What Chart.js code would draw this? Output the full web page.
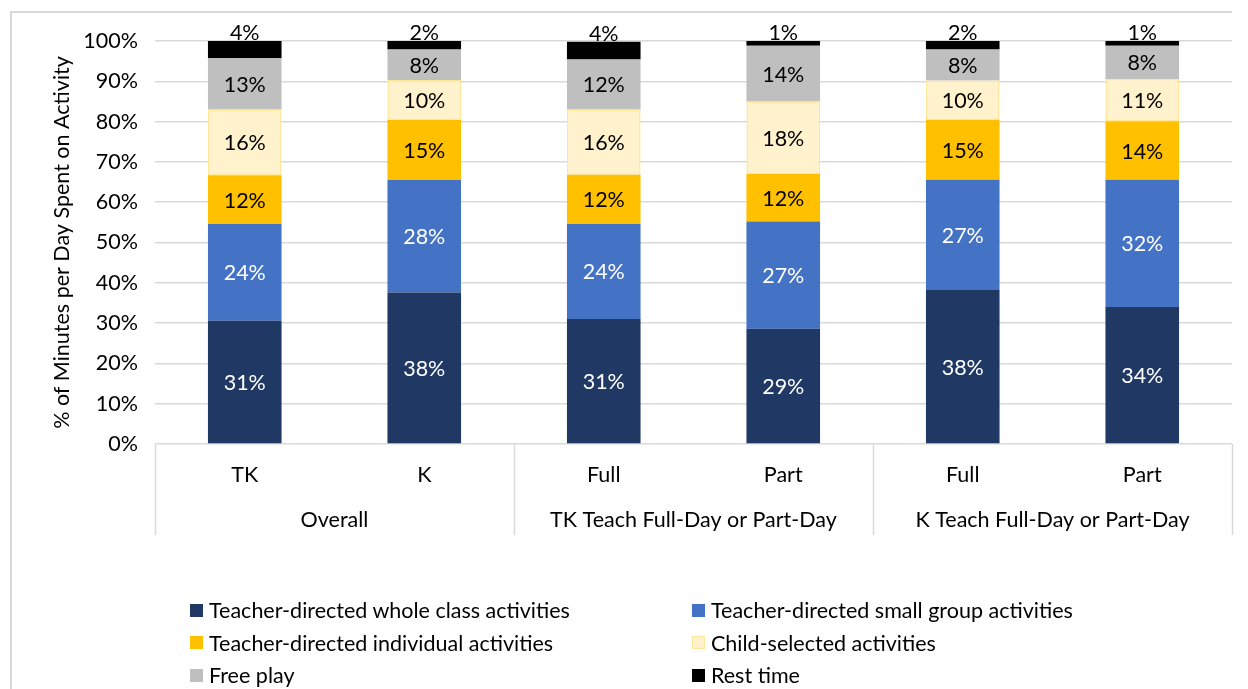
<!DOCTYPE html>
<html>
<head>
<meta charset="utf-8">
<script src="https://cdn.jsdelivr.net/npm/chart.js@4/dist/chart.umd.min.js"></script>
<style>
  html, body { margin: 0; padding: 0; background: #fff; }
  #wrap { position: relative; width: 1248px; height: 689px; overflow: hidden; }
  #moldura {
    position: absolute; left: 10px; top: 11px; width: 1220px; height: 700px;
    border-left: 2px solid #D9D9D9; border-top: 2px solid #D9D9D9;
  }
  #grafico { position: absolute; left: 0; top: 0; }
  #legend {
    position: absolute; left: 190px; top: 597px;
    display: grid; grid-template-columns: 502px 502px; row-gap: 6.5px;
    font-family: Lato, "Noto Sans", sans-serif; font-size: 21.5px; color: #000;
  }
  .item { display: flex; align-items: center; height: 26px; }
  .box { width: 13px; height: 13px; margin-right: 6px; box-sizing: border-box; }
</style>
</head>
<body>
<div id="wrap">
  <div id="moldura"></div>
  <canvas id="grafico" width="1248" height="689"></canvas>
  <div id="legend"></div>
</div>
<script>
// categorias e grupos
const categorias = ['TK', 'K', 'Full', 'Part', 'Full', 'Part'];
const grupos = ['Overall', 'TK Teach Full-Day or Part-Day', 'K Teach Full-Day or Part-Day'];
const yTicks = [0, 10, 20, 30, 40, 50, 60, 70, 80, 90, 100];

// séries (% of minutes)
const wholeClass  = [30.6, 37.6, 31.0, 28.6, 38.2, 34.0];
const smallGroup  = [24.0, 27.9, 23.6, 26.6, 27.4, 31.6];
const individual  = [12.1, 14.9, 12.2, 11.8, 14.8, 14.4];
const childSel    = [16.3,  9.9, 16.2, 18.0,  9.8, 10.6];
const freePlay    = [12.8,  7.6, 12.4, 13.8,  7.7,  8.2];
const restTime    = [ 4.2,  2.1,  4.4,  1.2,  2.1,  1.2];

const FONT = 'Lato, "Noto Sans", sans-serif';
const FS = 21.5;

const series = [
  { label: 'Teacher-directed whole class activities', data: wholeClass, cor: '#203864', borda: '#203864', txt: '#ffffff' },
  { label: 'Teacher-directed small group activities', data: smallGroup, cor: '#4472C4', borda: '#4472C4', txt: '#ffffff' },
  { label: 'Teacher-directed individual activities', data: individual, cor: '#FFC000', borda: '#FFC000', txt: '#000000' },
  { label: 'Child-selected activities', data: childSel, cor: '#FFF2CC', borda: '#FFE699', txt: '#000000' },
  { label: 'Free play', data: freePlay, cor: '#BFBFBF', borda: '#BFBFBF', txt: '#000000' },
  { label: 'Rest time', data: restTime, cor: '#000000', borda: '#000000', txt: '#000000' }
];

// rótulos de valor
const rotulos = {
  id: 'rotulos',
  afterDatasetsDraw(chart) {
    const c = chart.ctx;
    c.save();
    c.font = FS + 'px ' + FONT;
    c.textAlign = 'center';
    chart.data.datasets.forEach((ds, i) => {
      const meta = chart.getDatasetMeta(i);
      meta.data.forEach((bar, j) => {
        const txt = Math.round(ds.data[j]) + '%';
        c.fillStyle = series[i].txt;
        if (i === series.length - 1) {
          c.textBaseline = 'alphabetic';
          c.fillText(txt, bar.x, bar.y - 1);
        } else {
          c.textBaseline = 'middle';
          c.fillText(txt, bar.x, (bar.y + bar.base) / 2 + 1);
        }
      });
    });
    c.restore();
  }
};

// linhas separadoras dos grupos
const separadores = {
  id: 'separadores',
  afterDraw(chart) {
    const xs = chart.scales.x, x2 = chart.scales.x2;
    const c = chart.ctx;
    const pos = [xs.left, xs.right];
    for (let k = 2; k < categorias.length; k += 2) {
      pos.push((xs.getPixelForValue(k - 1) + xs.getPixelForValue(k)) / 2);
    }
    c.save();
    c.strokeStyle = '#D9D9D9';
    c.lineWidth = 1.5;
    pos.forEach(p => {
      c.beginPath();
      c.moveTo(Math.round(p) + 0.5, chart.chartArea.bottom);
      c.lineTo(Math.round(p) + 0.5, x2.bottom);
      c.stroke();
    });
    c.restore();
  }
};

const ctx = document.getElementById('grafico');

new Chart(ctx, {
  type: 'bar',
  data: {
    labels: categorias,
    datasets: series.map(s => ({
      label: s.label,
      data: s.data,
      backgroundColor: s.cor,
      borderColor: s.borda,
      borderWidth: s.cor === s.borda ? 0 : 1.5,
      borderSkipped: false,
      categoryPercentage: 1,
      barPercentage: 0.41
    }))
  },
  options: {
    responsive: false,
    animation: false,
    devicePixelRatio: 1,
    layout: { padding: { left: 49, right: 16, top: 41, bottom: 154 } },
    plugins: { legend: { display: false }, tooltip: { enabled: false } },
    scales: {
      x: {
        stacked: true,
        grid: { display: false, drawTicks: false },
        border: { display: false },
        ticks: { color: '#000', font: { family: FONT, size: FS }, padding: 18 },
        afterFit(s) { s.height = 45; }
      },
      x2: {
        type: 'category',
        labels: grupos,
        position: 'bottom',
        offset: true,
        grid: { display: false, drawTicks: false },
        border: { display: false },
        ticks: { color: '#000', font: { family: FONT, size: FS }, padding: 18 },
        afterFit(s) { s.height = 46; }
      },
      y: {
        stacked: true,
        min: 0,
        max: 100,
        afterBuildTicks(s) { s.ticks = yTicks.map(v => ({ value: v })); },
        ticks: { color: '#000', font: { family: FONT, size: FS }, padding: 17, callback: v => v + '%' },
        grid: { color: '#D9D9D9', lineWidth: 1.5, drawTicks: false },
        border: { display: false },
        title: {
          display: true,
          text: '% of Minutes per Day Spent on Activity',
          color: '#000',
          font: { family: FONT, size: FS },
          padding: { top: 0, bottom: 0 }
        },
        afterFit(s) { s.width = 106; }
      }
    }
  },
  plugins: [rotulos, separadores]
});

// legenda em duas colunas
const legenda = document.getElementById('legend');
series.forEach(s => {
  const item = document.createElement('div');
  item.className = 'item';
  item.innerHTML = `<span class="box" style="background:${s.cor};border:1.5px solid ${s.borda}"></span>${s.label}`;
  legenda.appendChild(item);
});
</script>
</body>
</html>
